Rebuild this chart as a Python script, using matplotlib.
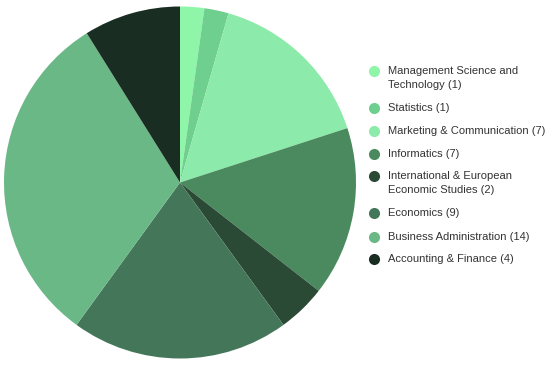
import matplotlib.pyplot as plt

plt.rcParams['font.family'] = ['Liberation Sans', 'DejaVu Sans']

labels = ['Management Science and\nTechnology (1)', 'Statistics (1)', 'Marketing & Communication (7)',
          'Informatics (7)', 'International & European\nEconomic Studies (2)', 'Economics (9)',
          'Business Administration (14)', 'Accounting & Finance (4)']
counts = [1, 1, 7, 7, 2, 9, 14, 4]
colors = ['#8ff5a8', '#6fcf8e', '#8cebaa', '#4a8a5e', '#2b4a36', '#44775a', '#6ab886', '#1a2d22']

fig = plt.figure(figsize=(5.5, 3.68), dpi=100)

# pie
ax = fig.add_axes([4 / 550, 9.5 / 368, 352 / 550, 352 / 368])
ax.pie(counts, colors=colors, startangle=90, counterclock=False,
       wedgeprops=dict(linewidth=0))
ax.set_xlim(-1, 1)
ax.set_ylim(-1, 1)
ax.set_aspect('equal')

# legend, placed by hand
lg = fig.add_axes([0, 0, 1, 1])
lg.set_xlim(0, 550)
lg.set_ylim(368, 0)
lg.axis('off')
rows = [71, 108, 131, 154, 176, 213, 237, 259]
for y, lab, c in zip(rows, labels, colors):
    lg.scatter([374], [y], s=64, color=c, linewidths=0)
    for i, line in enumerate(lab.split('\n')):
        lg.text(388, y + 14 * i, line, fontsize=8, color='#333333', va='center')

fig.savefig('out.png', dpi=100)
